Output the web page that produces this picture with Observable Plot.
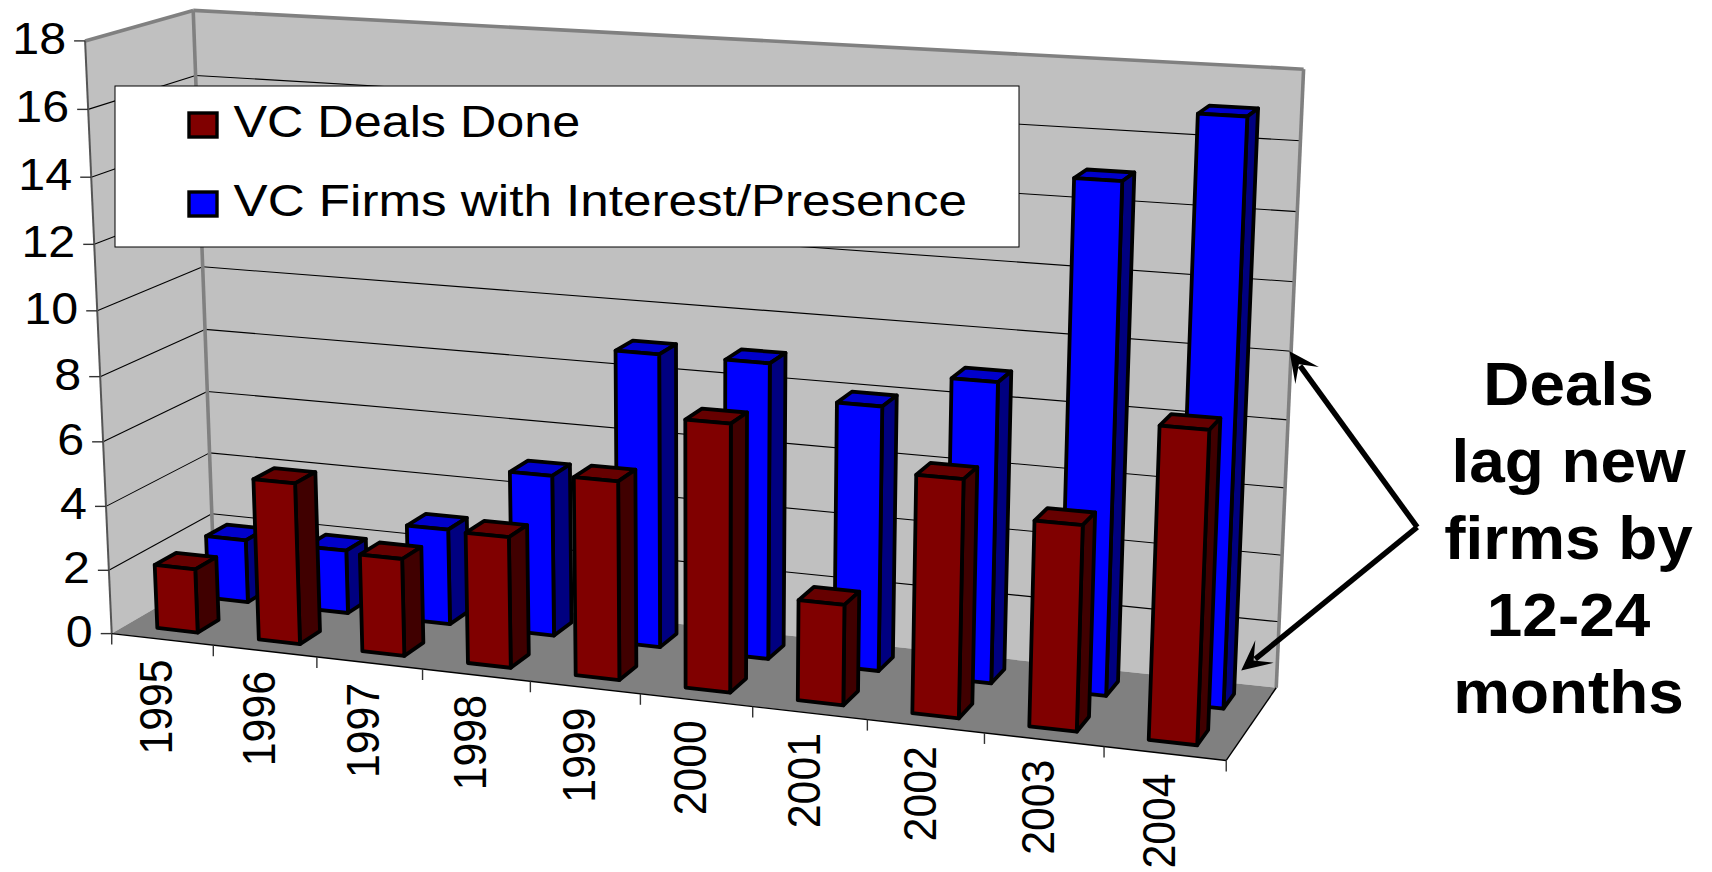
<!DOCTYPE html>
<html>
<head>
<meta charset="utf-8">
<title>VC deals and firms, 1995-2004</title>
<script src="https://cdn.jsdelivr.net/npm/d3@7"></script>
<script src="https://cdn.jsdelivr.net/npm/@observablehq/plot@0.6"></script>
<style>
  html, body { margin: 0; padding: 0; background: #fff; }
  svg { display: block; }
</style>
</head>
<body>
<div id="chart"></div>
<script>
// Chart values
const years = [1995, 1996, 1997, 1998, 1999, 2000, 2001, 2002, 2003, 2004];
const dealsDone = [2, 5, 3, 4, 6, 8, 3, 7, 6, 9];
const firmsWithInterest = [2, 2, 3, 5, 9, 9, 8, 9, 15, 17];
const valueTicks = [0, 2, 4, 6, 8, 10, 12, 14, 16, 18];
const seriesNames = ["VC Deals Done", "VC Firms with Interest/Presence"];
const noteLines = ["Deals", "lag new", "firms by", "12-24", "months"];

// Colours of each series: front, top and side faces
const redFaces = {front: "#800000", top: "#660000", side: "#400000"};
const blueFaces = {front: "#0000ff", top: "#0000cc", side: "#000080"};

// Perspective camera calibrated on known points of the chart box:
// [category position, depth, value, page x, page y]
const box = [
  [0, 0, 0, 111.7, 632.7], [0, 0, 4, 105, 505], [0, 0, 12, 94.3, 243], [0, 0, 18, 83, 41],
  [0, 1, 18, 193, 10], [0, 1, 10, 204, 267.7], [0, 1, 2, 210.7, 512.7], [0, 1, 0, 212, 573],
  [10, 1, 0, 1276.7, 687.3], [10, 1, 2, 1278, 622], [10, 1, 10, 1290, 350], [10, 1, 18, 1303.5, 68.3],
  [10, 0, 0, 1226.7, 759.3], [1, 0, 0, 212.7, 645], [3, 0, 0, 423.3, 668], [5, 0, 0, 641, 696], [9, 0, 0, 1101.3, 745.7]
];

function solveLinear(A, b) {
  const n = b.length, M = A.map((row, i) => [...row, b[i]]);
  for (let c = 0; c < n; c++) {
    let pivot = c;
    for (let r = c + 1; r < n; r++) if (Math.abs(M[r][c]) > Math.abs(M[pivot][c])) pivot = r;
    [M[c], M[pivot]] = [M[pivot], M[c]];
    for (let r = 0; r < n; r++) {
      if (r === c) continue;
      const f = M[r][c] / M[c][c];
      for (let k = c; k <= n; k++) M[r][k] -= f * M[c][k];
    }
  }
  return M.map((row, i) => row[n] / row[i]);
}

const camera = (() => {
  const rows = [], rhs = [];
  for (const [u, v, w, px, py] of box) {
    const U = u / 10, W = w / 18, sx = px / 1000, sy = py / 1000;
    rows.push([U, v, W, 1, 0, 0, 0, 0, -sx * U, -sx * v, -sx * W]); rhs.push(sx);
    rows.push([0, 0, 0, 0, U, v, W, 1, -sy * U, -sy * v, -sy * W]); rhs.push(sy);
  }
  const AtA = d3.range(11).map(i => d3.range(11).map(j => d3.sum(rows, r => r[i] * r[j])));
  const Atb = d3.range(11).map(i => d3.sum(rows, (r, k) => r[i] * rhs[k]));
  return solveLinear(AtA, Atb);
})();

// Maps (category position, depth 0..1, value) to page coordinates
function project(u, v, w) {
  const U = u / 10, W = w / 18, p = camera;
  const d = p[8] * U + p[9] * v + p[10] * W + 1;
  return [
    1000 * (p[0] * U + p[1] * v + p[2] * W + p[3]) / d,
    1000 * (p[4] * U + p[5] * v + p[6] * W + p[7]) / d
  ];
}

// Builds one flat list of polygon vertices, grouped by id
let nextId = 0;
function polygon(corners, fill) {
  const id = nextId++;
  return corners.map(([u, v, w]) => {
    const [x, y] = project(u, v, w);
    return {id, fill, x, y};
  });
}

const maxValue = 18, last = years.length;
const walls = [
  ...polygon([[0, 0, 0], [0, 1, 0], [0, 1, maxValue], [0, 0, maxValue]], "#c0c0c0"),
  ...polygon([[0, 1, 0], [last, 1, 0], [last, 1, maxValue], [0, 1, maxValue]], "#c0c0c0")
];
const floorPlane = polygon([[0, 0, 0], [last, 0, 0], [last, 1, 0], [0, 1, 0]], "#808080");

// Three visible faces of a bar
function barFaces(i, value, v0, v1, faces) {
  const u0 = i + 0.3, u1 = i + 0.7;
  return [
    ...polygon([[u0, v0, value], [u0, v1, value], [u1, v1, value], [u1, v0, value]], faces.top),
    ...polygon([[u1, v0, 0], [u1, v1, 0], [u1, v1, value], [u1, v0, value]], faces.side),
    ...polygon([[u0, v0, 0], [u1, v0, 0], [u1, v0, value], [u0, v0, value]], faces.front)
  ];
}
const blueBars = firmsWithInterest.flatMap((d, i) => barFaces(i, d, 0.645, 0.855, blueFaces));
const redBars = dealsDone.flatMap((d, i) => barFaces(i, d, 0.145, 0.35, redFaces));

// Helper for two-point strokes on the box
const seg = (a, b) => {
  const [x1, y1] = project(...a), [x2, y2] = project(...b);
  return {x1, y1, x2, y2};
};
const gridLines = valueTicks.filter(t => t > 0 && t < maxValue).flatMap(t => [
  seg([0, 0, t], [0, 1, t]),
  seg([0, 1, t], [last, 1, t])
]);
const frameThick = [
  seg([0, 0, maxValue], [0, 1, maxValue]),
  seg([0, 1, maxValue], [last, 1, maxValue]),
  seg([0, 1, 0], [0, 1, maxValue]),
  seg([last, 1, 0], [last, 1, maxValue])
];
const floorEdges = [seg([0, 0, 0], [last, 0, 0]), seg([last, 0, 0], [last, 1, 0])];
const frontEdge = [seg([0, 0, 0], [0, 0, maxValue])];

const valueTickMarks = valueTicks.map(t => {
  const [x, y] = project(0, 0, t);
  return {t, x1: x - 11, x2: x, y1: y, y2: y};
});
const categoryTickMarks = d3.range(last + 1).map(i => {
  const [x, y] = project(i, 0, 0);
  return {x1: x, x2: x, y1: y, y2: y + 11};
});
const valueLabels = valueTicks.map(t => {
  const [x, y] = project(0, 0, t);
  return {label: String(t), x: x - 19, y: y - 1};
});
const yearLabels = years.map((year, i) => {
  const [x, y] = project(i + 0.5, 0, 0);
  return {label: String(year), x: x - 5, y: y + 20};
});

// Annotation arrows leaving the note text
const arrowTail = [1416.7, 526.7];
const arrowTips = [[1289, 350.7], [1240.7, 670]];
const shafts = arrowTips.map(([x, y]) => {
  const dx = arrowTail[0] - x, dy = arrowTail[1] - y, len = Math.hypot(dx, dy);
  return {x1: arrowTail[0], y1: arrowTail[1], x2: x + dx / len * 18, y2: y + dy / len * 18};
});
const arrowHeads = arrowTips.flatMap(([x, y], id) => {
  const dx = arrowTail[0] - x, dy = arrowTail[1] - y, len = Math.hypot(dx, dy);
  const ux = dx / len, uy = dy / len, nx = -uy, ny = ux;
  return [[0, 0], [30, 14.5], [16, 0], [30, -14.5]].map(([a, b]) => ({
    id, x: x + ux * a + nx * b, y: y + uy * a + ny * b
  }));
});

// Legend
const legendBox = [{x1: 115, x2: 1019, y1: 86, y2: 247}];
const legendSwatches = [
  {x1: 189, x2: 217, y1: 113, y2: 137, fill: redFaces.front},
  {x1: 189, x2: 217, y1: 192, y2: 216, fill: blueFaces.front}
];
const legendLabels = [
  {label: seriesNames[0], x: 233, y: 122},
  {label: seriesNames[1], x: 233, y: 201}
];
const noteRows = noteLines.map((label, i) => ({label, x: 1568, y: 385 + i * 76.8}));

const face = {x: "x", y: "y", z: "id", fill: "fill", curve: "linear-closed"};
const barFace = {...face, stroke: "#000", strokeWidth: 3.8, strokeLinejoin: "round"};
const link = {x1: "x1", y1: "y1", x2: "x2", y2: "y2"};

const chart = Plot.plot({
  width: 1712,
  height: 872,
  margin: 0,
  x: {type: "linear", domain: [0, 1712], range: [0, 1712], axis: null},
  y: {type: "linear", domain: [0, 872], range: [0, 872], axis: null},
  color: {type: "identity"},
  style: {background: "#fff", fontFamily: "'Liberation Sans', Arial, sans-serif", color: "#000"},
  marks: [
    Plot.line(walls, face),
    Plot.line(floorPlane, face),
    Plot.link(gridLines, {...link, stroke: "#000", strokeWidth: 1.1}),
    Plot.link(frameThick, {...link, stroke: "#808080", strokeWidth: 3.6}),
    Plot.link(frontEdge, {...link, stroke: "#555", strokeWidth: 2}),
    Plot.link(floorEdges, {...link, stroke: "#000", strokeWidth: 1.4}),
    Plot.link(valueTickMarks, {...link, stroke: "#333", strokeWidth: 1.4}),
    Plot.link(categoryTickMarks, {...link, stroke: "#333", strokeWidth: 1.4}),
    Plot.text(valueLabels, {x: "x", y: "y", text: "label", textAnchor: "end", lineAnchor: "middle", fontSize: 44}),
    Plot.text(yearLabels, {x: "x", y: "y", text: "label", rotate: -90, textAnchor: "end", lineAnchor: "middle", fontSize: 47}),
    Plot.line(blueBars, barFace),
    Plot.line(redBars, barFace),
    Plot.rect(legendBox, {...link, fill: "#fff", stroke: "#000", strokeWidth: 1}),
    Plot.rect(legendSwatches, {...link, fill: "fill", stroke: "#000", strokeWidth: 3.4}),
    Plot.text(legendLabels, {x: "x", y: "y", text: "label", textAnchor: "start", lineAnchor: "middle", fontSize: 45}),
    Plot.text(noteRows, {x: "x", y: "y", text: "label", textAnchor: "middle", lineAnchor: "middle", fontSize: 62, fontWeight: "bold"}),
    Plot.link(shafts, {...link, stroke: "#000", strokeWidth: 5.5}),
    Plot.line(arrowHeads, {x: "x", y: "y", z: "id", fill: "#000", curve: "linear-closed"})
  ]
});
document.getElementById("chart").appendChild(chart);

// Text runs wider than the font's natural proportions; the rotated year labels run narrower
function stretch(labels, factor) {
  for (const t of chart.querySelectorAll("text")) {
    if (labels.includes(t.textContent)) {
      t.setAttribute("textLength", t.getComputedTextLength() * factor);
      t.setAttribute("lengthAdjust", "spacingAndGlyphs");
    }
  }
}
stretch([seriesNames[0]], 1.118);
stretch([seriesNames[1]], 1.137);
stretch(valueLabels.map(d => d.label), 1.1);
stretch(years.map(String), 0.91);
stretch(noteLines, 1.03);
</script>
</body>
</html>
